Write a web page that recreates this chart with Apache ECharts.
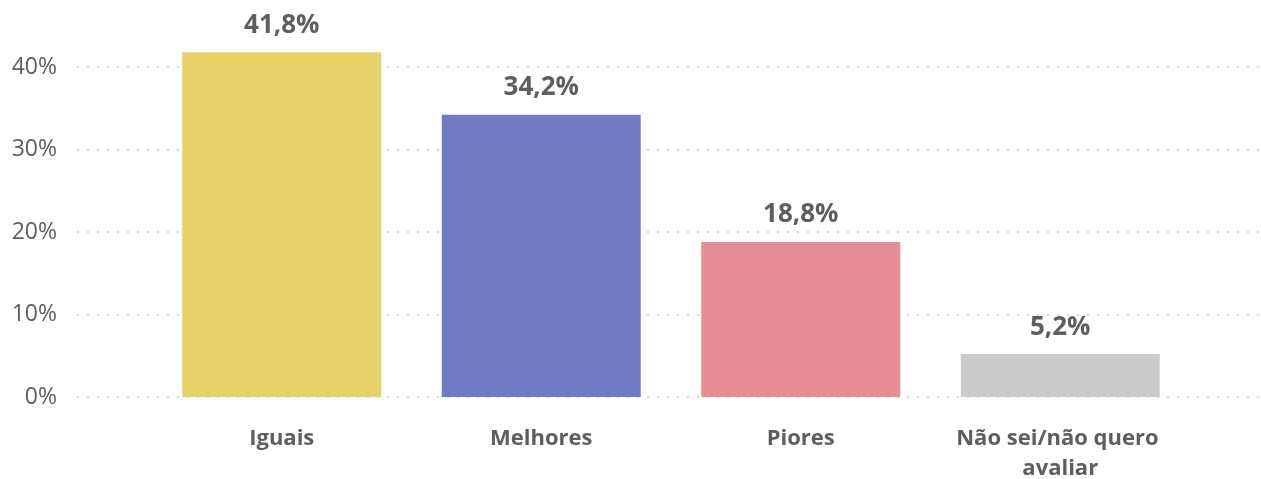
<!DOCTYPE html>
<html>
<head>
<meta charset="utf-8">
<script src="https://cdn.jsdelivr.net/npm/echarts@6/dist/echarts.min.js"></script>
<style>
  html, body { margin: 0; padding: 0; background: #fff; }
  #chart1 { width: 1261px; height: 479px; }
</style>
</head>
<body>
<div id="chart1"></div>
<script>
var categories = ["Iguais", "Melhores", "Piores", "Não sei/não quero avaliar"]
var values = [41.8, 34.2, 18.8, 5.2]
var barColors = ["#E8D166", "#707BC5", "#E68D95", "#CBCBCB"]
var yTicks = [0, 10, 20, 30, 40]

var textColor = "#605E5C"
var font = "'Open Sans', 'Noto Sans', sans-serif"

var chart = echarts.init(document.querySelector("#chart1"))

var option = {
    animation: false,
    grid: [
        { left: 77, right: 2, top: 67, bottom: 82, outerBoundsMode: "none" },
        { left: 152, right: 71, top: 67, bottom: 82, outerBoundsMode: "none" }
    ],
    xAxis: [
        { gridIndex: 0, type: "value", show: false, min: 0, max: 1 },
        {
            gridIndex: 1,
            type: "category",
            data: categories,
            axisLine: { show: false },
            axisTick: { show: false },
            axisLabel: {
                interval: 0,
                color: textColor,
                fontFamily: font,
                fontWeight: "bold",
                fontSize: 22,
                lineHeight: 30,
                margin: 27,
                width: 240,
                overflow: "break"
            }
        }
    ],
    yAxis: [
        {
            gridIndex: 0,
            type: "value",
            min: yTicks[0],
            max: yTicks[yTicks.length - 1],
            interval: 10,
            axisLine: { show: false },
            axisTick: { show: false },
            axisLabel: {
                formatter: "{value}%",
                color: textColor,
                fontFamily: font,
                fontSize: 23,
                margin: 20
            },
            splitLine: {
                lineStyle: { color: "#D4D4D4", width: 2, type: [2, 8] }
            }
        },
        {
            gridIndex: 1,
            type: "value",
            min: yTicks[0],
            max: yTicks[yTicks.length - 1],
            show: false
        }
    ],
    series: [{
        type: "bar",
        xAxisIndex: 1,
        yAxisIndex: 1,
        clip: false,
        barWidth: 199,
        data: values.map(function (v, i) {
            return { value: v, itemStyle: { color: barColors[i] } }
        }),
        label: {
            show: true,
            position: "top",
            distance: 14,
            color: textColor,
            fontFamily: font,
            fontWeight: "bold",
            fontSize: 26,
            formatter: function (p) {
                return p.value.toFixed(1).replace(".", ",") + "%"
            }
        }
    }]
}

chart.setOption(option)
</script>
</body>
</html>
